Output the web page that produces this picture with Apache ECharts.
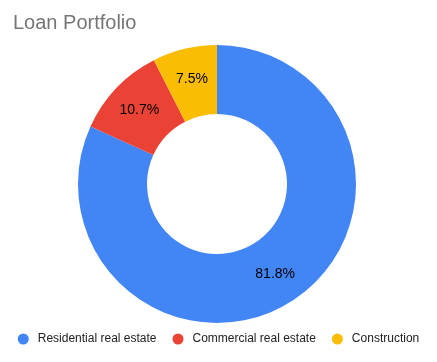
<!DOCTYPE html>
<html><head><meta charset="utf-8">
<script src="https://cdn.jsdelivr.net/npm/echarts@6/dist/echarts.min.js"></script>
<style>html,body{margin:0;padding:0;background:#fff}#c{width:437px;height:362px}</style>
</head><body><div id="c"></div>
<script>
const categories = ['Residential real estate', 'Commercial real estate', 'Construction'];
const values = [81.8, 10.7, 7.5];
const colors = ['#4285F4', '#EA4335', '#FBBC04'];

const chart = echarts.init(document.getElementById('c'), null, {renderer: 'canvas'});
chart.setOption({
  animation: false,
  title: {
    text: 'Loan Portfolio', left: 8, top: 8,
    textStyle: {fontFamily: 'Arial, Liberation Sans', fontSize: 20, fontWeight: 'normal', color: '#757575'}
  },
  legend: {
    bottom: 12, left: 'center', icon: 'circle', itemWidth: 11, itemHeight: 11, itemGap: 16,
    textStyle: {fontFamily: 'Arial, Liberation Sans', fontSize: 12, color: '#222', padding: [0, 0, 0, 4]},
    data: categories
  },
  series: [{
    type: 'pie',
    center: [217, 184],
    radius: [70, 139],
    startAngle: 90,
    clockwise: true,
    avoidLabelOverlap: false,
    label: {
      show: true, position: 'inside', formatter: '{c}%',
      fontFamily: 'Arial, Liberation Sans', fontSize: 14, color: '#000'
    },
    labelLine: {show: false},
    itemStyle: {borderWidth: 0},
    emphasis: {disabled: true},
    data: categories.map((n, i) => ({name: n, value: values[i], itemStyle: {color: colors[i]}}))
  }]
});
</script></body></html>
